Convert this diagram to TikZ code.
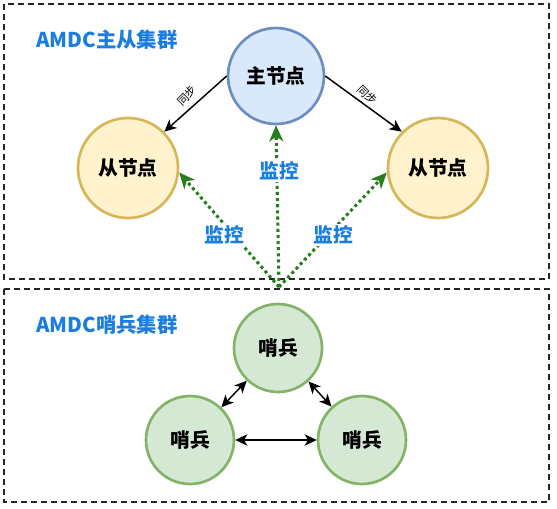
\documentclass[tikz,border=0pt]{standalone}
\usepackage{fontspec}
\setmainfont{Noto Sans CJK SC}
\usetikzlibrary{arrows.meta}
\definecolor{tblue}{RGB}{26,125,224}
\definecolor{mfill}{HTML}{DAE8FC}
\definecolor{mdraw}{HTML}{6C8EBF}
\definecolor{sfill}{HTML}{FFF2CC}
\definecolor{sdraw}{HTML}{D6B656}
\definecolor{gfill}{HTML}{D5E8D4}
\definecolor{gdraw}{HTML}{82B366}
\definecolor{mongreen}{RGB}{40,125,30}
\begin{document}
\begin{tikzpicture}[x=0.75pt,y=-0.75pt,
  box/.style={draw=black!85,line width=1.1pt,dash pattern=on 4.5pt off 3pt},
  circ/.style={circle,line width=2pt,inner sep=0pt,font=\fontsize{14.8}{16}\selectfont\bfseries},
  master/.style={circ,fill=mfill,draw=mdraw,minimum size=72pt},
  slave/.style={circ,fill=sfill,draw=sdraw,minimum size=75pt},
  sent/.style={circ,fill=gfill,draw=gdraw,minimum size=66pt},
  title/.style={anchor=west,inner sep=0pt,text=tblue,font=\fontsize{15.3}{17}\selectfont\bfseries},
  sync/.style={draw=black,line width=1.1pt,-{Stealth[length=9pt,width=8.5pt,inset=2.5pt]}},
  synclab/.style={font=\fontsize{8.3}{9}\selectfont,inner sep=0pt},
  mon/.style={draw=mongreen,line width=2.3pt,dash pattern=on 2.3pt off 2.3pt,
    -{Stealth[length=12pt,width=10.5pt,inset=3.5pt]}},
  monlab/.style={fill=white,inner sep=1pt,text=tblue,font=\fontsize{14.8}{16}\selectfont\bfseries},
  both/.style={draw=black,line width=1.1pt,{Stealth[length=9pt,width=8.5pt,inset=2.5pt]}-{Stealth[length=9pt,width=8.5pt,inset=2.5pt]}}
]
\useasboundingbox (0,0) rectangle (557,508);
\draw[box] (4,4) rectangle (549,279);
\draw[box] (4,289) rectangle (549,502);
\node[title] (t1) at (36,40) {AMDC主从集群};
\node[title] (t2) at (36,325) {AMDC哨兵集群};

\node[master] (m) at (276,76) {主节点};
\node[slave] (s1) at (128,168) {从节点};
\node[slave] (s2) at (438,168) {从节点};
\node[sent] (t) at (278,348) {哨兵};
\node[sent] (l) at (190,440) {哨兵};
\node[sent] (r) at (362,440) {哨兵};

\draw[sync] (m.west) -- (s1.north east);
\draw[sync] (m.east) -- (s2.north west);
\node[synclab,rotate=45] (sl1) at (187,96) {同步};
\node[synclab,rotate=-45] (sl2) at (367,95) {同步};

\coordinate (g) at (279,287);
\draw[mon] (g) -- (s1.-5);
\draw[mon] (g) -- (s2.185);
\draw[mon] (g) -- (m.south);
\node[monlab] (ml1) at (279,171) {监控};
\node[monlab] (ml2) at (224,235) {监控};
\node[monlab] (ml3) at (333,235) {监控};

\draw[both] (t) -- (l);
\draw[both] (t) -- (r);
\draw[both] (l) -- (r);
\end{tikzpicture}
\end{document}
